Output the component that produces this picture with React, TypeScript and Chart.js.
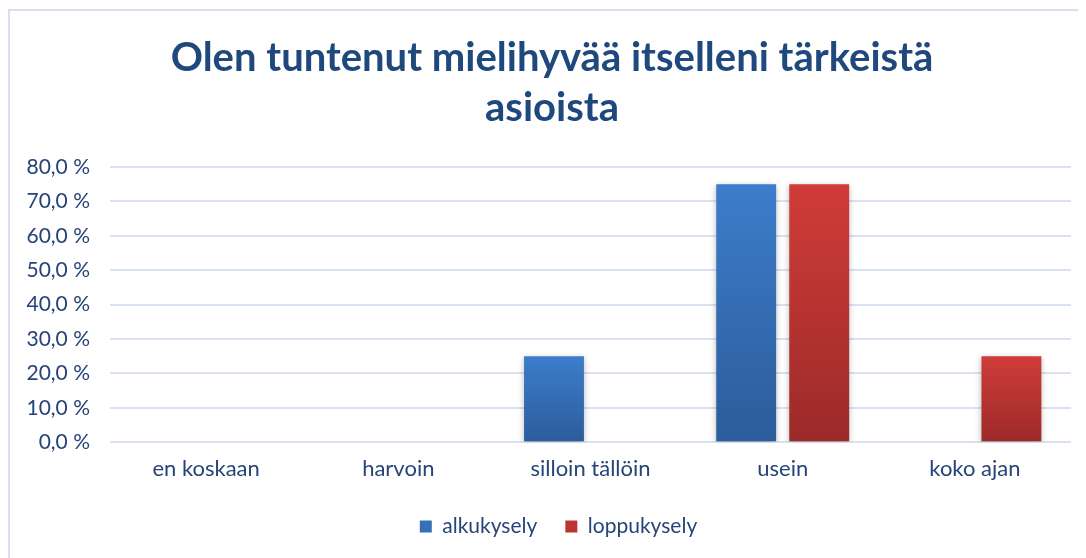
import React, { useEffect, useRef } from "react";
import { Chart, registerables } from "chart.js";

Chart.register(...registerables);

const titleLines = ["Olen tuntenut mielihyvää itselleni tärkeistä", "asioista"];
const categories = ["en koskaan", "harvoin", "silloin tällöin", "usein", "koko ajan"];
const seriesNames = ["alkukysely", "loppukysely"];
const alkukysely = [0, 0, 25, 75, 0];
const loppukysely = [0, 0, 0, 75, 25];
const yTicks = [0, 10, 20, 30, 40, 50, 60, 70, 80];

const FONT = "Lato, 'Noto Sans', sans-serif";
const TEXT = "#264478";
const TITLE = "#1F497D";
const BLUE_TOP = "#3D7DCB";
const BLUE_BOT = "#2C5C9A";
const RED_TOP = "#D03C38";
const RED_BOT = "#9B2A29";

function barGradient(top: string, bot: string) {
  return (ctx: any) => {
    const chart = ctx.chart;
    const y = chart.scales && chart.scales.y;
    if (!chart.chartArea || !y || ctx.type !== "data") return top;
    const v = ctx.raw ?? 0;
    const y0 = y.getPixelForValue(0);
    const y1 = y.getPixelForValue(v);
    if (Math.abs(y0 - y1) < 1) return top;
    const g = chart.ctx.createLinearGradient(0, y1, 0, y0);
    g.addColorStop(0, top);
    g.addColorStop(1, bot);
    return g;
  };
}

const shadowPlugin = {
  id: "barShadow",
  beforeDatasetsDraw(chart: any) {
    const c = chart.ctx;
    c.save();
    c.shadowColor = "rgba(0,0,0,0.28)";
    c.shadowBlur = 6;
    c.shadowOffsetX = 0;
    c.shadowOffsetY = 2;
  },
  afterDatasetsDraw(chart: any) {
    chart.ctx.restore();
  },
};

const shiftPlugin = {
  id: "shiftBlocks",
  afterLayout(chart: any) {
    const t = chart.titleBlock;
    if (t) {
      t.left += 11.5;
      t.right += 11.5;
    }
    const l = chart.legend;
    if (l) {
      l.left += 18;
      l.right += 18;
    }
  },
};

export default function App() {
  const ref = useRef<HTMLCanvasElement>(null);
  useEffect(() => {
    if (!ref.current) return;
    const chart = new Chart(ref.current, {
      type: "bar",
      data: {
        labels: categories,
        datasets: [
          {
            label: seriesNames[0],
            data: alkukysely,
            backgroundColor: barGradient(BLUE_TOP, BLUE_BOT),
            borderWidth: 0,
            categoryPercentage: 0.76,
            barPercentage: 0.82,
          },
          {
            label: seriesNames[1],
            data: loppukysely,
            backgroundColor: barGradient(RED_TOP, RED_BOT),
            borderWidth: 0,
            categoryPercentage: 0.76,
            barPercentage: 0.82,
          },
        ],
      },
      plugins: [shadowPlugin, shiftPlugin],
      options: {
        animation: false,
        responsive: false,
        maintainAspectRatio: false,
        layout: { padding: { left: 0, right: 15, top: 0, bottom: 10 } },
        plugins: {
          title: {
            display: true,
            text: titleLines,
            color: TITLE,
            font: { family: FONT, size: 40, weight: "bold", lineHeight: 1.25 },
            padding: { top: 22, bottom: 34 },
          },
          legend: {
            position: "bottom",
            labels: {
              color: TEXT,
              font: { family: FONT, size: 21 },
              boxWidth: 12,
              boxHeight: 12,
              padding: 28,
              generateLabels: () => [
                { text: seriesNames[0], fillStyle: "#3670B8", strokeStyle: "#3670B8", lineWidth: 0, datasetIndex: 0, fontColor: TEXT },
                { text: seriesNames[1], fillStyle: "#BD3533", strokeStyle: "#BD3533", lineWidth: 0, datasetIndex: 1, fontColor: TEXT },
              ],
            },
          },
          tooltip: { enabled: false },
        },
        scales: {
          x: {
            grid: { display: false },
            border: { display: false },
            ticks: { color: TEXT, font: { family: FONT, size: 22, lineHeight: 0.9 }, padding: 9 },
          },
          y: {
            min: 0,
            max: 80,
            afterBuildTicks: (axis: any) => {
              axis.ticks = yTicks.map((v) => ({ value: v }));
            },
            afterFit: (axis: any) => {
              axis.width = 100;
            },
            grid: { color: "#D9E2F1", lineWidth: 2, drawTicks: false },
            border: { display: false },
            ticks: {
              color: TEXT,
              font: { family: FONT, size: 21 },
              padding: 20,
              callback: (v: any) => Number(v).toFixed(1).replace(".", ",") + " %",
            },
          },
        },
      },
    });
    return () => chart.destroy();
  }, []);
  return (
    <div
      style={{
        marginTop: 1,
        width: 1078,
        height: 548,
        borderTop: "2px solid #D6E0EF",
        borderLeft: "2px solid #D6E0EF",
        overflow: "hidden",
      }}
    >
      <canvas ref={ref} width={1076} height={546} style={{ display: "block" }} />
    </div>
  );
}
